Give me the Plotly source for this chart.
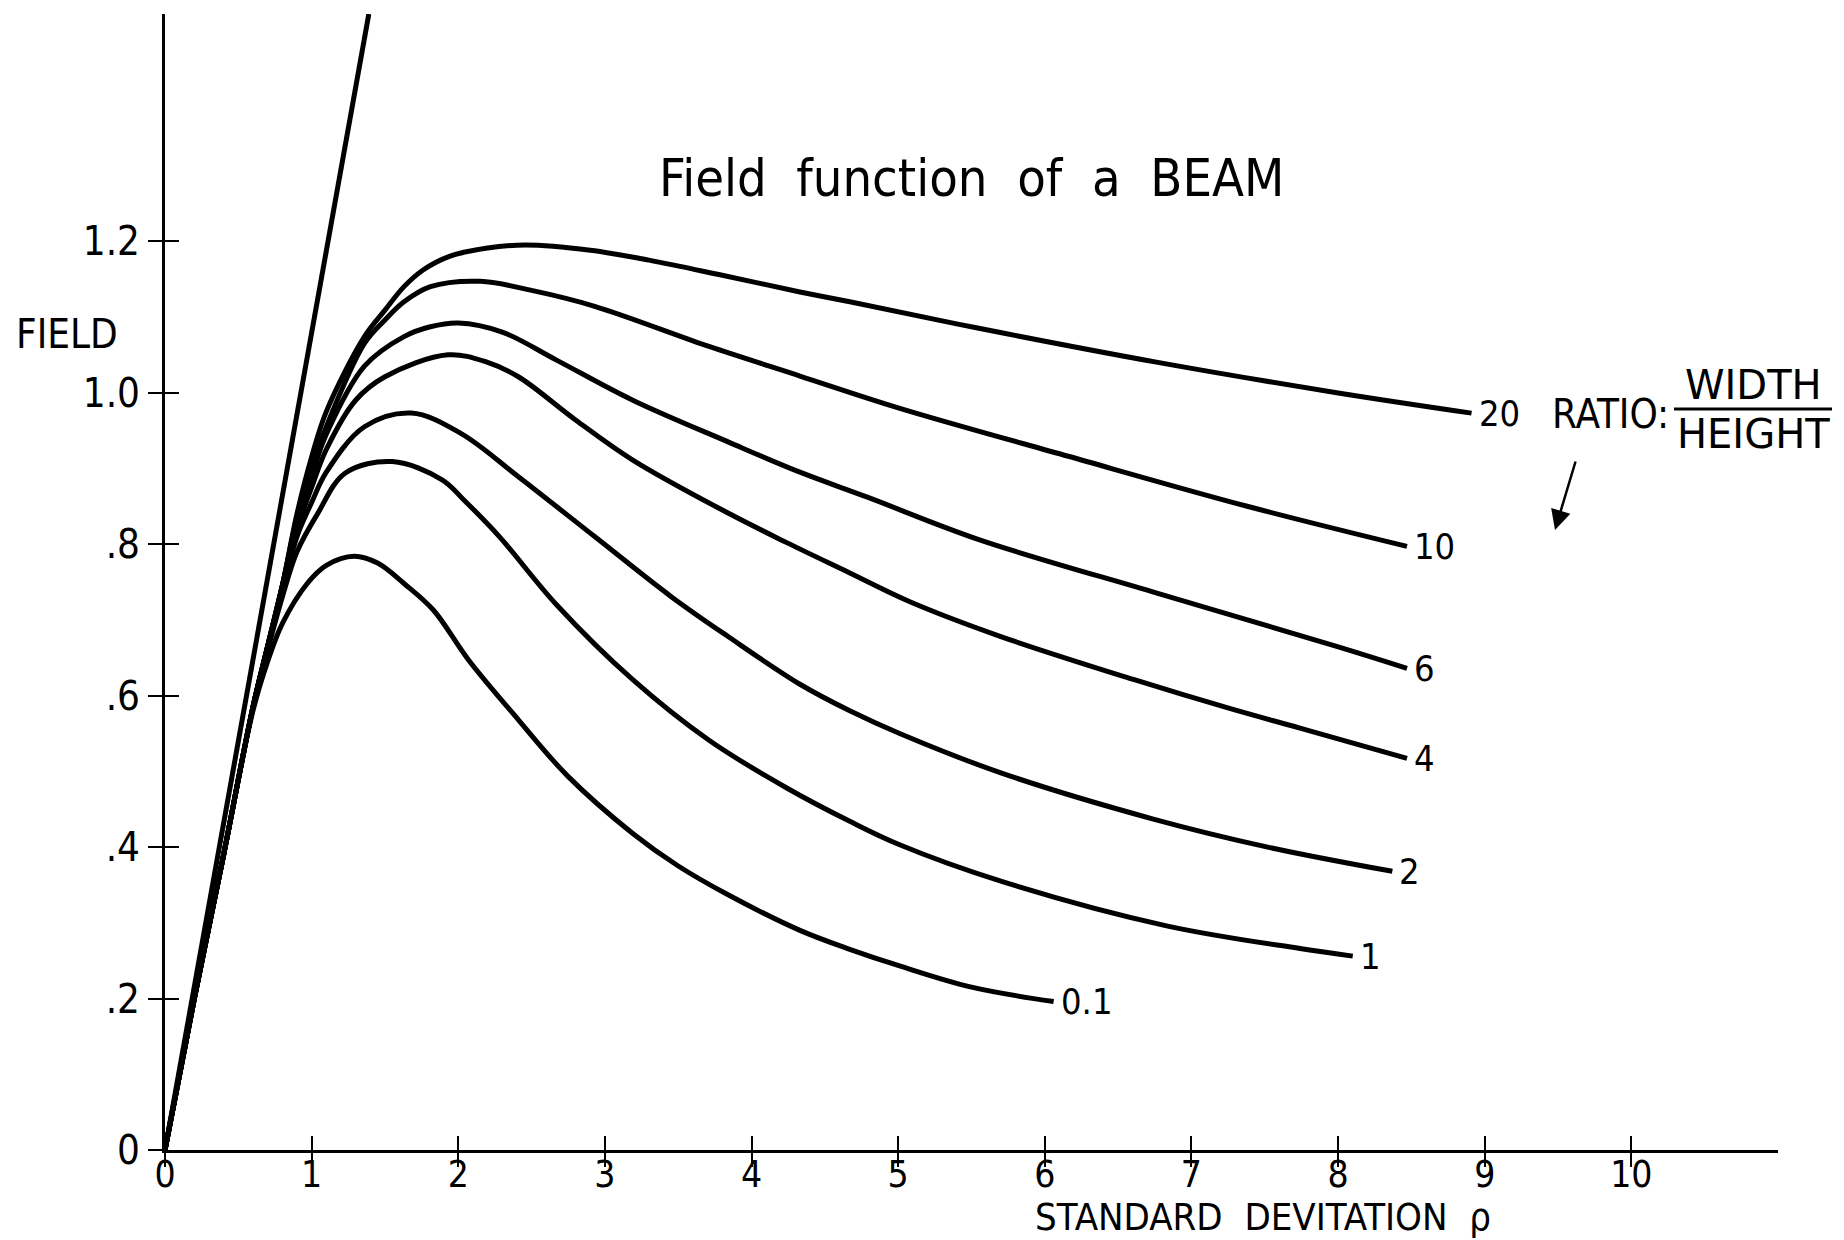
import plotly.graph_objects as go

# ---------------- data ----------------
ratio_labels = ["20", "10", "6", "4", "2", "1", "0.1"]

x_20 = [0, 0.2, 0.4, 0.6, 0.7, 0.8, 0.9, 1.0, 1.1, 1.36, 1.5, 1.63, 1.76, 1.94, 2.2, 2.46, 2.9, 3.3, 3.8, 4.33, 4.67, 5.55, 6.77, 7.99, 8.91]
y_20 = [0, 0.2, 0.39, 0.585, 0.665, 0.745, 0.84, 0.915, 0.975, 1.074, 1.109, 1.14, 1.162, 1.18, 1.191, 1.195, 1.188, 1.175, 1.155, 1.133, 1.12, 1.085, 1.04, 1.0, 0.973]

x_10 = [0, 0.2, 0.4, 0.6, 0.7, 0.8, 0.9, 1.0, 1.1, 1.36, 1.5, 1.63, 1.81, 2.15, 2.5, 2.93, 3.71, 4.33, 5.0, 6.16, 7.38, 8.47]
y_10 = [0, 0.2, 0.39, 0.585, 0.665, 0.745, 0.835, 0.9, 0.955, 1.065, 1.096, 1.12, 1.14, 1.147, 1.135, 1.114, 1.061, 1.022, 0.98, 0.916, 0.85, 0.797]

x_6 = [0, 0.2, 0.4, 0.6, 0.7, 0.8, 0.9, 1.0, 1.1, 1.36, 1.63, 1.81, 2.0, 2.3, 2.67, 3.19, 3.84, 4.33, 4.79, 5.55, 6.77, 7.99, 8.47]
y_6 = [0, 0.2, 0.39, 0.585, 0.665, 0.745, 0.83, 0.89, 0.945, 1.035, 1.074, 1.087, 1.092, 1.08, 1.043, 0.99, 0.935, 0.895, 0.862, 0.806, 0.735, 0.665, 0.636]

x_4 = [0, 0.2, 0.4, 0.6, 0.7, 0.8, 0.9, 1.0, 1.1, 1.3, 1.5, 1.93, 2.2, 2.41, 2.8, 3.19, 3.84, 4.24, 4.67, 5.08, 5.70, 6.61, 7.26, 7.74, 8.47]
y_4 = [0, 0.2, 0.39, 0.585, 0.665, 0.745, 0.82, 0.875, 0.925, 0.99, 1.021, 1.05, 1.04, 1.021, 0.964, 0.911, 0.841, 0.802, 0.762, 0.724, 0.678, 0.621, 0.583, 0.557, 0.517]

x_2 = [0, 0.2, 0.4, 0.6, 0.7, 0.8, 0.9, 1.0, 1.1, 1.36, 1.68, 2.02, 2.41, 2.93, 3.45, 3.84, 4.33, 4.67, 5.01, 5.7, 6.74, 7.52, 8.37]
y_2 = [0, 0.2, 0.39, 0.585, 0.665, 0.74, 0.81, 0.855, 0.895, 0.955, 0.973, 0.946, 0.889, 0.81, 0.731, 0.678, 0.615, 0.58, 0.55, 0.498, 0.437, 0.40, 0.368]

x_1 = [0, 0.2, 0.4, 0.6, 0.7, 0.8, 0.9, 1.04, 1.23, 1.55, 1.89, 2.04, 2.28, 2.67, 3.19, 3.71, 4.24, 4.67, 5.01, 5.7, 6.83, 7.74, 8.1]
y_1 = [0, 0.2, 0.39, 0.585, 0.66, 0.73, 0.79, 0.84, 0.894, 0.909, 0.885, 0.858, 0.81, 0.72, 0.621, 0.541, 0.478, 0.434, 0.403, 0.355, 0.296, 0.266, 0.256]

x_01 = [0, 0.2, 0.4, 0.6, 0.7, 0.8, 0.97, 1.1, 1.29, 1.45, 1.63, 1.83, 2.07, 2.41, 2.75, 3.19, 3.5, 3.84, 4.33, 4.67, 5.01, 5.5, 6.06]
y_01 = [0, 0.2, 0.39, 0.58, 0.645, 0.695, 0.748, 0.772, 0.784, 0.775, 0.748, 0.713, 0.647, 0.568, 0.493, 0.418, 0.375, 0.337, 0.29, 0.265, 0.243, 0.215, 0.196]

# straight reference line through the origin
x_line = [0, 1.39]
y_line = [0, 1.5]

x_ticks = [0, 1, 2, 3, 4, 5, 6, 7, 8, 9, 10]
x_ticktext = ["0", "1", "2", "3", "4", "5", "6", "7", "8", "9", "10"]
y_ticks = [0, 0.2, 0.4, 0.6, 0.8, 1.0, 1.2]
y_ticktext = ["0", ".2", ".4", ".6", ".8", "1.0", "1.2"]

curves_x = [x_20, x_10, x_6, x_4, x_2, x_1, x_01]
curves_y = [y_20, y_10, y_6, y_4, y_2, y_1, y_01]

# ---------------- figure ----------------
FONT = "DejaVu Sans Condensed, DejaVu Sans, sans-serif"
FONT_WIDE = "DejaVu Sans, sans-serif"
W, H = 1844, 1240
ML, MR, MT, MB = 165, 66, 14, 90
X_RANGE = [0, 11]
Y_RANGE = [0, 1.5]
LW = 5

fig = go.Figure()

# straight line is drawn on the overlaid axes (same ranges) so that they render their ticks
fig.add_trace(go.Scatter(x=x_line, y=y_line, mode="lines", xaxis="x2", yaxis="y2",
                         line=dict(color="black", width=LW), showlegend=False,
                         hoverinfo="skip"))

for cx, cy, lab in zip(curves_x, curves_y, ratio_labels):
    fig.add_trace(go.Scatter(x=cx, y=cy, mode="lines", name=lab,
                             line=dict(color="black", width=LW, shape="spline", smoothing=1.0),
                             showlegend=False, hoverinfo="skip"))
    fig.add_annotation(x=cx[-1], y=cy[-1], text=lab, showarrow=False,
                       xanchor="left", yanchor="middle", xshift=5, yshift=0,
                       font=dict(family=FONT, size=36, color="black"))

axis_common = dict(showgrid=False, zeroline=False)
fig.update_layout(
    width=W, height=H,
    margin=dict(l=ML, r=MR, t=MT, b=MB, pad=0),
    paper_bgcolor="white", plot_bgcolor="white",
    font=dict(family=FONT, color="black"),
    xaxis=dict(range=X_RANGE, showline=True, linewidth=3, linecolor="black",
               ticks="outside", ticklen=14, tickwidth=2, tickcolor="black",
               tickvals=x_ticks, ticktext=x_ticktext, ticklabelstandoff=-24,
               tickfont=dict(family=FONT, size=37, color="black"), **axis_common),
    yaxis=dict(range=Y_RANGE, showline=True, linewidth=3, linecolor="black",
               ticks="outside", ticklen=14, tickwidth=2, tickcolor="black",
               tickvals=y_ticks, ticktext=y_ticktext,
               tickfont=dict(family=FONT, size=40, color="black"), **axis_common),
    xaxis2=dict(range=X_RANGE, overlaying="x", anchor="y2", side="bottom",
                ticks="inside", ticklen=14, tickwidth=2, tickcolor="black",
                tickvals=x_ticks, showticklabels=False, showline=False, **axis_common),
    yaxis2=dict(range=Y_RANGE, overlaying="y", anchor="x2", side="left",
                ticks="inside", ticklen=14, tickwidth=2, tickcolor="black",
                tickvals=y_ticks, showticklabels=False, showline=False, **axis_common),
)

# helpers: pixel position -> data / paper coordinates (for text placement only)
pw = W - ML - MR
ph = H - MT - MB
def px2x(px):
    return X_RANGE[0] + (px - ML) / pw * (X_RANGE[1] - X_RANGE[0])
def py2y(py):
    return Y_RANGE[0] + (H - MB - py) / ph * (Y_RANGE[1] - Y_RANGE[0])
def px2paper(px):
    return (px - ML) / pw
def py2paper(py):
    return (H - MB - py) / ph

def paper_text(px, py, text, size, xanchor="left", family=FONT):
    fig.add_annotation(x=px2paper(px), y=py2paper(py), xref="paper", yref="paper",
                       text=text, showarrow=False, xanchor=xanchor, yanchor="middle",
                       font=dict(family=family, size=size, color="black"))

paper_text(971, 178, "Field\u00a0 function\u00a0 of\u00a0 a\u00a0 BEAM", 52, "center")
paper_text(14, 334, "FIELD", 40)
paper_text(1033, 1217, "STANDARD\u00a0 DEVITATION\u00a0 \u03c1", 38)
paper_text(1550, 414, "RATIO:", 40)
paper_text(1753, 385, "WIDTH", 40, "center", FONT_WIDE)
paper_text(1753, 434, "HEIGHT", 40, "center", FONT_WIDE)
fig.add_shape(type="line", xref="paper", yref="paper",
              x0=px2paper(1674), x1=px2paper(1832), y0=py2paper(409), y1=py2paper(409),
              line=dict(color="black", width=3))
# arrow
fig.add_annotation(x=px2x(1555), y=py2y(530), ax=21, ay=-70, xref="x", yref="y",
                   text="", showarrow=True, arrowhead=2, arrowsize=1.6, arrowwidth=2.5,
                   arrowcolor="black")

fig.write_html("out.html", config={"displayModeBar": False},
               post_script="document.body.style.margin='0';")
